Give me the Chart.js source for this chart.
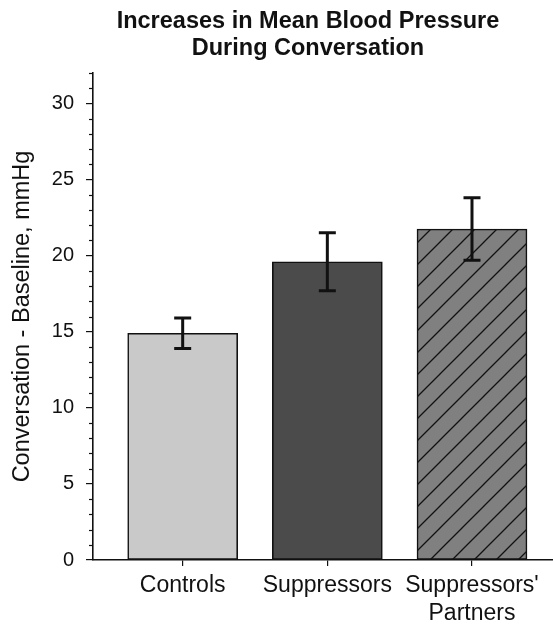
<!DOCTYPE html>
<html>
<head>
    <title>Increases in Mean Blood Pressure During Conversation</title>
    <script src="https://cdn.jsdelivr.net/npm/chart.js"></script>
    <style>
        body { margin: 0; padding: 0; background: #ffffff; }
        #wrap { width: 553px; height: 627px; }
    </style>
</head>
<body>
    <div id="wrap"><canvas id="bpChart" width="553" height="627"></canvas></div>
    <script>
        // Values
        const categories = ['Controls', 'Suppressors', ["Suppressors'", 'Partners']];
        const means = [14.9, 19.6, 21.75];
        const errors = [1.0, 1.9, 2.05];
        const yMajorTicks = [0, 5, 10, 15, 20, 25, 30];
        const titleLines = ['Increases in Mean Blood Pressure', 'During Conversation'];

        const FONT = "'Liberation Sans', Arial, Helvetica, sans-serif";

        // Diagonal hatch for the partners bar
        function makeHatch() {
            const size = 22;
            const c = document.createElement('canvas');
            c.width = size;
            c.height = size;
            const g = c.getContext('2d');
            g.fillStyle = '#808080';
            g.fillRect(0, 0, size, size);
            g.strokeStyle = '#111';
            g.lineWidth = 1.3;
            g.beginPath();
            g.moveTo(-size, size * 2); g.lineTo(size * 2, -size);
            g.moveTo(-size, size); g.lineTo(size, -size);
            g.moveTo(0, size * 2); g.lineTo(size * 2, 0);
            g.stroke();
            return g.createPattern(c, 'repeat');
        }

        const ctx = document.getElementById('bpChart').getContext('2d');

        const errorBars = {
            id: 'errorBars',
            afterDatasetsDraw(chart) {
                const { ctx, scales: { x, y } } = chart;
                ctx.save();
                ctx.strokeStyle = '#111';
                ctx.lineWidth = 3;
                means.forEach((m, i) => {
                    const px = x.getPixelForValue(i);
                    const top = y.getPixelForValue(m + errors[i]);
                    const bot = y.getPixelForValue(m - errors[i]);
                    ctx.beginPath();
                    ctx.moveTo(px, top); ctx.lineTo(px, bot);
                    ctx.moveTo(px - 8.5, top); ctx.lineTo(px + 8.5, top);
                    ctx.moveTo(px - 8.5, bot); ctx.lineTo(px + 8.5, bot);
                    ctx.stroke();
                });
                ctx.restore();
            }
        };

        // Short minor ticks on the y axis
        const minorTicks = {
            id: 'minorTicks',
            afterDraw(chart) {
                const { ctx, scales: { y }, chartArea } = chart;
                ctx.save();
                ctx.strokeStyle = '#111';
                ctx.lineWidth = 1.2;
                for (let v = y.min; v <= y.max; v++) {
                    if (yMajorTicks.includes(v)) continue;
                    const py = Math.round(y.getPixelForValue(v)) + 0.5;
                    ctx.beginPath();
                    ctx.moveTo(chartArea.left - 4, py);
                    ctx.lineTo(chartArea.left, py);
                    ctx.stroke();
                }
                ctx.restore();
            }
        };

        const titlePlugin = {
            id: 'twoLineTitle',
            afterDraw(chart) {
                const c = chart.ctx;
                c.save();
                c.fillStyle = '#111';
                c.font = 'bold 23.5px ' + FONT;
                c.textAlign = 'center';
                c.textBaseline = 'alphabetic';
                c.fillText(titleLines[0], 308, 28);
                c.fillText(titleLines[1], 308, 55);
                c.restore();
            }
        };

        new Chart(ctx, {
            type: 'bar',
            data: {
                datasets: [{
                    data: means.map((m, i) => ({ x: i, y: m })),
                    backgroundColor: ['#c9c9c9', '#4b4b4b', makeHatch()],
                    borderColor: '#111',
                    borderWidth: 1.6,
                    borderSkipped: false,
                    barThickness: 110
                }]
            },
            options: {
                responsive: false,
                animation: false,
                layout: { padding: { top: 73, right: 0, left: 0, bottom: 0 } },
                plugins: {
                    legend: { display: false },
                    tooltip: { enabled: false }
                },
                scales: {
                    x: {
                        type: 'linear',
                        offset: false,
                        min: -0.62,
                        max: 2.56,
                        afterBuildTicks(scale) {
                            scale.ticks = categories.map((c, i) => ({ value: i }));
                        },
                        afterFit(scale) { scale.height = 67; },
                        grid: { offset: false, drawOnChartArea: false, tickLength: 6, color: '#111', lineWidth: 1.2 },
                        border: { color: '#111', width: 1.6 },
                        ticks: {
                            color: '#111',
                            padding: 6,
                            maxRotation: 0,
                            autoSkip: false,
                            font: { family: FONT, size: 23 },
                            callback: (v, i) => categories[i]
                        }
                    },
                    y: {
                        min: 0,
                        max: 32,
                        afterFit(scale) { scale.width = 93; },
                        grid: {
                            drawOnChartArea: false,
                            tickLength: 7,
                            lineWidth: 1.2,
                            tickColor: (c) => yMajorTicks.includes(c.tick.value) ? '#111' : 'rgba(0,0,0,0)'
                        },
                        border: { color: '#111', width: 1.6 },
                        ticks: {
                            stepSize: 1,
                            autoSkip: false,
                            padding: 12,
                            color: '#111',
                            font: { family: FONT, size: 20 },
                            callback: (v) => yMajorTicks.includes(v) ? String(v) : ''
                        },
                        title: {
                            display: true,
                            text: 'Conversation - Baseline, mmHg',
                            color: '#111',
                            padding: { top: 8, bottom: 0 },
                            font: { family: FONT, size: 23.5 }
                        }
                    }
                }
            },
            plugins: [errorBars, minorTicks, titlePlugin]
        });
    </script>
</body>
</html>
